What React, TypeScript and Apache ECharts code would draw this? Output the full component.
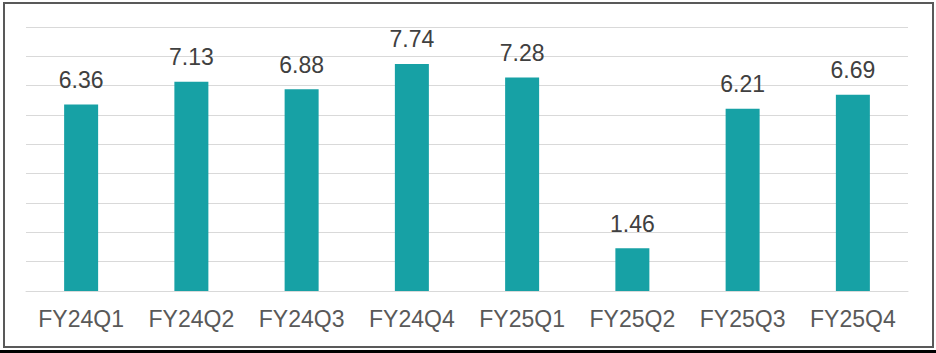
import React, { useEffect, useRef } from "react";
import * as echarts from "echarts";

const categories = ["FY24Q1", "FY24Q2", "FY24Q3", "FY24Q4", "FY25Q1", "FY25Q2", "FY25Q3", "FY25Q4"];
const values = [6.36, 7.13, 6.88, 7.74, 7.28, 1.46, 6.21, 6.69];

export default function App() {
  const ref = useRef<HTMLDivElement>(null);
  useEffect(() => {
    if (!ref.current) return;
    const chart = echarts.init(ref.current, undefined, { renderer: "svg" });
    chart.setOption({
      animation: false,
      backgroundColor: "#ffffff",
      grid: { left: 26, right: 28, top: 27, bottom: 62, containLabel: false },
      xAxis: {
        type: "category",
        data: categories,
        axisLine: { show: true, lineStyle: { color: "#D9D9D9", width: 1 } },
        axisTick: { show: false },
        axisLabel: {
          interval: 0,
          color: "#595959",
          fontFamily: "Liberation Sans, Arial, sans-serif",
          fontSize: 23,
          margin: 16,
        },
      },
      yAxis: {
        type: "value",
        min: 0,
        max: 9,
        interval: 1,
        axisLabel: { show: false },
        axisLine: { show: false },
        axisTick: { show: false },
        splitLine: { show: true, lineStyle: { color: "#D9D9D9", width: 1 } },
      },
      series: [
        {
          type: "bar",
          data: values,
          barWidth: 34,
          itemStyle: { color: "#17A1A5" },
          label: {
            show: true,
            position: "top",
            distance: 13,
            color: "#404040",
            fontFamily: "Liberation Sans, Arial, sans-serif",
            fontSize: 23,
            formatter: (p: any) => p.value.toFixed(2),
          },
        },
      ],
      graphic: [
        {
          type: "rect",
          shape: { x: 4, y: 3, width: 929, height: 344 },
          style: { fill: "none", stroke: "#595959", lineWidth: 2 },
          silent: true,
        },
        {
          type: "rect",
          shape: { x: 0, y: 350, width: 936, height: 3 },
          style: { fill: "#000000" },
          silent: true,
        },
      ],
    });
    return () => chart.dispose();
  }, []);
  return (
    <div
      ref={ref}
      style={{ position: "fixed", left: 0, top: 0, width: 936, height: 353 }}
    />
  );
}
